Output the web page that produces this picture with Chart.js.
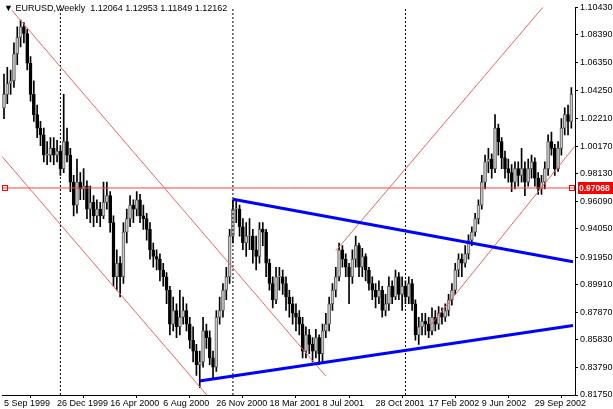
<!DOCTYPE html>
<html><head><meta charset="utf-8">
<script src="https://cdn.jsdelivr.net/npm/chart.js@4"></script>
<style>html,body{margin:0;padding:0;background:#fff;}#wrap{position:relative;width:613px;height:409px;}
#hdr{position:absolute;left:4px;top:3px;font:9px "Liberation Sans",Arial,sans-serif;color:#000;white-space:pre;}</style>
</head><body><div id="wrap"><canvas id="c" width="613" height="409"></canvas>
<div id="hdr">▼ EURUSD,Weekly  1.12064 1.12953 1.11849 1.12162</div></div>
<script>
const closes=[1.040,1.048,1.050,1.070,1.082,1.090,1.085,1.063,1.040,1.025,1.015,1.010,0.995,0.995,1.000,0.995,0.998,0.985,1.005,0.995,0.975,0.958,0.975,0.970,0.972,0.955,0.960,0.950,0.955,0.950,0.960,0.965,0.945,0.905,0.915,0.905,0.938,0.948,0.958,0.955,0.962,0.950,0.948,0.940,0.925,0.920,0.918,0.910,0.905,0.895,0.870,0.880,0.868,0.875,0.880,0.870,0.858,0.850,0.840,0.842,0.865,0.860,0.845,0.838,0.875,0.880,0.895,0.905,0.935,0.955,0.955,0.942,0.930,0.935,0.935,0.925,0.920,0.940,0.938,0.915,0.900,0.888,0.905,0.905,0.900,0.890,0.885,0.878,0.875,0.870,0.850,0.862,0.855,0.850,0.860,0.848,0.865,0.870,0.885,0.895,0.905,0.925,0.918,0.912,0.905,0.918,0.928,0.912,0.920,0.910,0.900,0.895,0.890,0.895,0.880,0.885,0.898,0.890,0.905,0.892,0.898,0.890,0.900,0.885,0.862,0.868,0.872,0.870,0.865,0.875,0.870,0.878,0.875,0.880,0.888,0.895,0.910,0.918,0.915,0.922,0.932,0.938,0.948,0.958,0.975,0.990,0.992,0.985,1.015,1.005,0.993,0.985,0.982,0.975,0.985,0.980,0.985,0.975,0.985,0.990,0.978,0.970,0.975,0.985,1.005,1.000,0.985,1.000,1.015,1.025,1.020,1.040];
const opens=[1.030,1.040,1.048,1.050,1.070,1.082,1.090,1.085,1.063,1.040,1.025,1.015,1.010,0.995,0.995,1.000,0.995,0.998,0.985,1.005,0.995,0.975,0.958,0.975,0.970,0.972,0.955,0.960,0.950,0.955,0.950,0.960,0.965,0.945,0.905,0.915,0.905,0.938,0.948,0.958,0.955,0.962,0.950,0.948,0.940,0.925,0.920,0.918,0.910,0.905,0.895,0.870,0.880,0.868,0.875,0.880,0.870,0.858,0.850,0.840,0.842,0.865,0.860,0.845,0.838,0.875,0.880,0.895,0.905,0.935,0.955,0.955,0.942,0.930,0.935,0.935,0.925,0.920,0.940,0.938,0.915,0.900,0.888,0.905,0.905,0.900,0.890,0.885,0.878,0.875,0.870,0.850,0.862,0.855,0.850,0.860,0.848,0.865,0.870,0.885,0.895,0.905,0.925,0.918,0.912,0.905,0.918,0.928,0.912,0.920,0.910,0.900,0.895,0.890,0.895,0.880,0.885,0.898,0.890,0.905,0.892,0.898,0.890,0.900,0.885,0.862,0.868,0.872,0.870,0.865,0.875,0.870,0.878,0.875,0.880,0.888,0.895,0.910,0.918,0.915,0.922,0.932,0.938,0.948,0.958,0.975,0.990,0.992,0.985,1.015,1.005,0.993,0.985,0.982,0.975,0.985,0.980,0.985,0.975,0.985,0.990,0.978,0.970,0.975,0.985,1.005,1.000,0.985,1.000,1.015,1.025,1.020];
const highs=[1.055,1.060,1.058,1.078,1.090,1.095,1.093,1.088,1.068,1.050,1.032,1.020,1.015,1.005,1.008,1.008,1.006,1.002,1.040,1.015,1.000,0.980,0.992,0.982,0.985,0.976,0.972,0.965,0.962,0.960,0.975,0.975,0.968,0.950,0.925,0.920,0.945,0.955,0.965,0.962,0.968,0.966,0.958,0.952,0.945,0.930,0.925,0.922,0.915,0.908,0.898,0.890,0.885,0.895,0.890,0.885,0.875,0.868,0.855,0.850,0.875,0.870,0.865,0.850,0.880,0.890,0.900,0.912,0.940,0.962,0.962,0.958,0.948,0.945,0.948,0.940,0.935,0.945,0.945,0.940,0.918,0.905,0.912,0.912,0.910,0.905,0.895,0.890,0.885,0.880,0.875,0.868,0.866,0.860,0.866,0.862,0.870,0.878,0.890,0.900,0.912,0.930,0.928,0.922,0.915,0.925,0.935,0.930,0.926,0.922,0.912,0.905,0.900,0.902,0.898,0.892,0.905,0.902,0.910,0.908,0.905,0.902,0.905,0.903,0.888,0.875,0.878,0.878,0.875,0.882,0.880,0.883,0.882,0.885,0.892,0.900,0.915,0.922,0.922,0.928,0.936,0.942,0.952,0.962,0.980,0.995,1.000,0.996,1.025,1.018,1.008,0.998,0.992,0.988,0.990,0.990,1.000,0.990,0.992,0.995,0.993,0.982,0.980,0.990,1.010,1.012,1.003,1.005,1.022,1.030,1.032,1.045];
const lows=[1.022,1.033,1.040,1.045,1.062,1.075,1.078,1.058,1.035,1.020,1.008,1.002,0.990,0.988,0.990,0.988,0.990,0.980,0.982,0.990,0.968,0.950,0.952,0.962,0.962,0.948,0.945,0.942,0.945,0.942,0.948,0.955,0.938,0.898,0.895,0.890,0.900,0.930,0.942,0.945,0.950,0.945,0.940,0.932,0.918,0.912,0.910,0.902,0.898,0.885,0.862,0.865,0.860,0.862,0.870,0.865,0.852,0.842,0.832,0.823,0.838,0.852,0.840,0.830,0.835,0.870,0.875,0.888,0.900,0.930,0.945,0.935,0.925,0.920,0.925,0.915,0.910,0.915,0.928,0.905,0.895,0.882,0.885,0.895,0.892,0.880,0.875,0.870,0.865,0.862,0.845,0.845,0.848,0.842,0.845,0.840,0.842,0.860,0.865,0.880,0.890,0.902,0.912,0.905,0.885,0.900,0.912,0.905,0.905,0.902,0.895,0.888,0.882,0.885,0.875,0.876,0.880,0.885,0.888,0.888,0.880,0.885,0.885,0.880,0.858,0.855,0.862,0.862,0.860,0.862,0.865,0.866,0.870,0.872,0.876,0.884,0.892,0.905,0.905,0.912,0.918,0.928,0.935,0.944,0.955,0.970,0.982,0.978,0.982,0.995,0.985,0.978,0.975,0.968,0.970,0.972,0.975,0.965,0.972,0.978,0.972,0.966,0.966,0.970,0.980,0.995,0.980,0.983,0.995,1.010,1.010,1.015];
const dateTicks=[0,16,32,48,64,80,96,112,128,144,160];
const dateLabels=["5 Sep 1999","26 Dec 1999","16 Apr 2000","6 Aug 2000","26 Nov 2000","18 Mar 2001","8 Jul 2001","28 Oct 2001","17 Feb 2002","9 Jun 2002","29 Sep 2002"];
const yearSeparators=[17,69,121];
const priceTicks=[1.10430,1.08390,1.06350,1.04250,1.02210,1.00170,0.98130,0.96090,0.94050,0.91950,0.89910,0.87870,0.85830,0.83790,0.81750];
const priceTickLabels=["1.10430","1.08390","1.06350","1.04250","1.02210","1.00170","0.98130","0.96090","0.94050","0.91950","0.89910","0.87870","0.85830","0.83790","0.81750"];
const currentPrice=0.97068;
const blueUpper=[[69,0.9624],[171.5,0.9161]];
const blueLower=[[58.9,0.8278],[171.5,0.8690]];
const redDownA=[[2.4,1.1021],[97,0.8315]];
const redDownB=[[-0.6,0.9940],[62,0.8150]];
const redUpA=[[100,0.9242],[163.5,1.1075]];
const redUpB=[[128.5,0.8690],[172,1.0014]];

const FONT='"Liberation Sans", Arial, sans-serif';
const idx=closes.map((_,i)=>i);
const up=idx.map(i=>closes[i]>=opens[i]);
const wicks=idx.map(i=>({x:i,y:[lows[i],highs[i]]}));
const bodies=idx.map(i=>({x:i,y:[opens[i],closes[i]===opens[i]?closes[i]+0.0005:closes[i]]}));
const seg=(p,color,w,dash)=>({type:'line',data:p.map(a=>({x:a[0],y:a[1]})),borderColor:color,borderWidth:w,borderDash:dash||[],pointRadius:0,fill:false,order:0});
const datasets=[
 {type:'bar',data:wicks,backgroundColor:'#000',barThickness:1,grouped:false,order:3},
 {type:'bar',data:bodies,backgroundColor:up.map(u=>u?'#c8c8c8':'#000'),borderColor:up.map(u=>u?'#606060':'#000'),borderWidth:1,borderSkipped:false,barThickness:3,grouped:false,order:2},
 seg(blueUpper,'#0000ff',3),seg(blueLower,'#0000ff',3),
 seg(redDownA,'#ff6060',1),seg(redDownB,'#ff6060',1),seg(redUpA,'#ff6060',1),seg(redUpB,'#ff6060',1),
 seg([[-0.6,currentPrice],[172.1,currentPrice]],'#ff4040',1),
 ...yearSeparators.map(s=>seg([[s,0.8175],[s,1.1043]],'#000',1,[2,2]))
];
const priceTag={id:'priceTag',afterDraw(ch){const y=ch.scales.y,ctx=ch.ctx,py=Math.round(y.getPixelForValue(currentPrice));
 ctx.save();ctx.fillStyle='#ff0000';ctx.fillRect(y.left+3,py-6,35,12);ctx.fillStyle='#fff';ctx.font='bold 8.5px '+FONT;ctx.textBaseline='middle';ctx.fillText('0.97068',y.left+4,py+0.5);
 ctx.strokeStyle='#ff0000';ctx.strokeRect(ch.chartArea.left+0.5,py-2.5,5,5);ctx.strokeRect(y.left-5.5,py-2.5,5,5);ctx.restore();}};
new Chart(document.getElementById('c'),{data:{datasets},plugins:[priceTag],
 options:{responsive:false,devicePixelRatio:1,animation:false,layout:{padding:{left:2,top:5,right:0,bottom:0}},
 plugins:{legend:{display:false},tooltip:{enabled:false}},
 scales:{
  x:{type:'linear',min:-0.6,max:172.1,offset:false,grid:{display:true,drawOnChartArea:false,tickLength:3,color:'#000'},border:{color:'#000'},
   afterBuildTicks:s=>{s.ticks=dateTicks.map(v=>({value:v}));},
   ticks:{autoSkip:false,maxRotation:0,align:'start',padding:0,color:'#000',font:{size:9,family:FONT},callback:(v)=>dateLabels[dateTicks.indexOf(v)]},
   afterFit:s=>{s.height=14;}},
  y:{position:'right',min:0.8175,max:1.1043,grid:{display:true,drawOnChartArea:false,tickLength:3,color:'#000'},border:{color:'#000'},
   afterBuildTicks:s=>{s.ticks=priceTicks.map(v=>({value:v}));},
   ticks:{autoSkip:false,padding:2,color:'#000',font:{size:9,family:FONT},callback:(v)=>priceTickLabels[priceTicks.indexOf(v)]},
   afterFit:s=>{s.width=38;}}
 }}});
</script></body></html>
